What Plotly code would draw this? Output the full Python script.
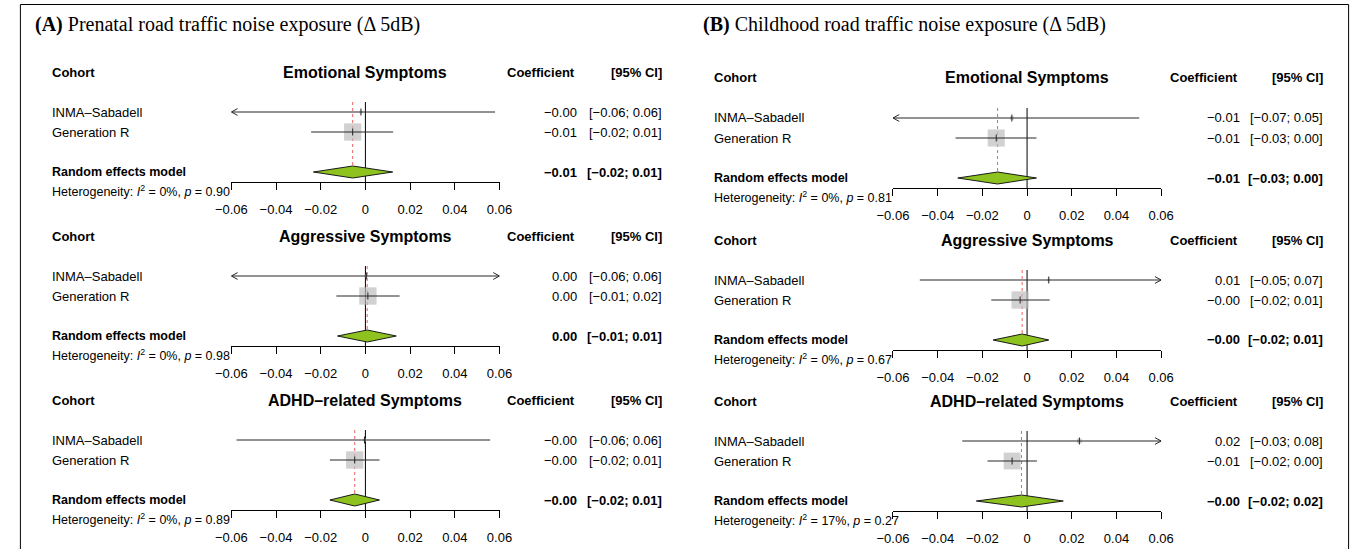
import plotly.graph_objects as go
import math

# ---------------- data ----------------
outcomes = ["Emotional Symptoms", "Aggressive Symptoms", "ADHD\u2013related Symptoms"]
studies = ["INMA\u2013Sabadell", "Generation R"]
panel_titles = ["<b>(A)</b> Prenatal road traffic noise exposure (\u0394 5dB)",
                "<b>(B)</b> Childhood road traffic noise exposure (\u0394 5dB)"]
x_limits = [-0.06, 0.06]
tick_vals = [-0.06, -0.04, -0.02, 0, 0.02, 0.04, 0.06]
tick_text = ["\u22120.06", "\u22120.04", "\u22120.02", "0", "0.02", "0.04", "0.06"]

# Prenatal exposure (A): per outcome
pre_inma_est = [-0.002, 0.0004, -0.0004]
pre_inma_lo = [-0.0625, -0.063, -0.0577]
pre_inma_hi = [0.058, 0.064, 0.0558]
pre_inma_w = [3, 2, 3]
pre_genr_est = [-0.0057, 0.0011, -0.0048]
pre_genr_lo = [-0.0243, -0.013, -0.0159]
pre_genr_hi = [0.0124, 0.0153, 0.0063]
pre_genr_w = [97, 98, 97]
pre_re_est = [-0.0057, 0.0008, -0.0048]
pre_re_lo = [-0.0233, -0.0125, -0.0159]
pre_re_hi = [0.0122, 0.0138, 0.0063]
pre_i2 = [0, 0, 0]
pre_p = [0.90, 0.98, 0.89]

# Childhood exposure (B): per outcome
child_inma_est = [-0.0068, 0.0097, 0.0234]
child_inma_lo = [-0.068, -0.048, -0.029]
child_inma_hi = [0.0502, 0.068, 0.076]
child_inma_w = [5, 3, 8]
child_genr_est = [-0.0138, -0.0031, -0.0067]
child_genr_lo = [-0.032, -0.016, -0.0177]
child_genr_hi = [0.0042, 0.0101, 0.0044]
child_genr_w = [95, 97, 92]
child_re_est = [-0.0132, -0.0022, -0.0025]
child_re_lo = [-0.031, -0.0152, -0.0227]
child_re_hi = [0.0042, 0.0097, 0.0162]
child_i2 = [0, 0, 17]
child_p = [0.81, 0.67, 0.27]

# ---------------- layout constants (pixels) ----------------
W, H = 1366, 549
ax_left_px = [220, 896]
ax_right_px = [494, 1170]
header_px = [[72, 236, 400], [78, 240, 401]]
label_left_px = [35, 711]
coef_right_px = [573, 1251]
est_right_px = [575, 1253]
ci_right_px = [662, 1337]
title_x_px = [17, 700]
title_y_px = 24
ROW = 20  # pixel pitch of one row

SANS = "Liberation Sans, Arial, Helvetica, sans-serif"
SERIF = "Liberation Serif, Times New Roman, serif"
BOX_COL = "#BEBEBE"
DIAM_COL = "#8DC21F"
LINE_COL = "#262626"

def px(x):
    return x / W

def py(y):
    return 1 - y / H

def fmt(v):
    s = f"{v:.2f}"
    return s.replace("-", "\u2212")

fig = go.Figure()
annotations = []
layout_axes = {}

def add_text(text, x, y, xanchor, size=13, bold=False, family=SANS):
    annotations.append(dict(
        text=f"<b>{text}</b>" if bold else text,
        x=px(x), y=py(y), xref="paper", yref="paper",
        xanchor=xanchor, yanchor="middle", showarrow=False,
        font=dict(family=family, size=size, color="black")))

exposures = [
    (pre_inma_est, pre_inma_lo, pre_inma_hi, pre_inma_w,
     pre_genr_est, pre_genr_lo, pre_genr_hi, pre_genr_w,
     pre_re_est, pre_re_lo, pre_re_hi, pre_i2, pre_p),
    (child_inma_est, child_inma_lo, child_inma_hi, child_inma_w,
     child_genr_est, child_genr_lo, child_genr_hi, child_genr_w,
     child_re_est, child_re_lo, child_re_hi, child_i2, child_p),
]

k = 0
for e, data in enumerate(exposures):
    (ie, il, ih, iw, ge, gl, gh, gw, re_e, re_l, re_h, i2, pv) = data
    annotations.append(dict(
        text=panel_titles[e], x=px(title_x_px[e]), y=py(title_y_px),
        xref="paper", yref="paper", xanchor="left", yanchor="middle",
        showarrow=False, font=dict(family=SERIF, size=20, color="black")))
    for o in range(3):
        k += 1
        xa = "x" if k == 1 else f"x{k}"
        ya = "y" if k == 1 else f"y{k}"
        hp = header_px[e][o]
        layout_axes["xaxis" if k == 1 else f"xaxis{k}"] = dict(
            domain=[px(ax_left_px[e]), px(ax_right_px[e])],
            range=x_limits, anchor=ya, showgrid=False, zeroline=False,
            showline=True, linecolor="black", linewidth=1,
            ticks="outside", ticklen=7, tickwidth=1, tickcolor="black",
            tickvals=tick_vals, ticktext=tick_text, ticklabelstandoff=8,
            tickfont=dict(family=SANS, size=13, color="black"), fixedrange=True)
        layout_axes["yaxis" if k == 1 else f"yaxis{k}"] = dict(
            domain=[py(hp + 5.5 * ROW), py(hp - 0.5 * ROW)],
            range=[5.5, -0.5], anchor=xa, visible=False, fixedrange=True)

        rows = [2, 3]
        est = [ie[o], ge[o]]
        lo = [il[o], gl[o]]
        hi = [ih[o], gh[o]]
        wts = [iw[o], gw[o]]

        # zero reference line
        fig.add_trace(go.Scatter(x=[0, 0], y=[1.5, 5.5], mode="lines",
                                 line=dict(color="black", width=1),
                                 xaxis=xa, yaxis=ya, hoverinfo="skip", showlegend=False))
        # random-effects dotted line
        fig.add_trace(go.Scatter(x=[re_e[o], re_e[o]], y=[1.5, 4.7], mode="lines",
                                 line=dict(color="#F06060", width=1, dash="dot"),
                                 xaxis=xa, yaxis=ya, hoverinfo="skip", showlegend=False))
        # boxes
        fig.add_trace(go.Scatter(
            x=est, y=rows, mode="markers",
            marker=dict(symbol="square", color=BOX_COL,
                        size=[max(2.5, 17.5 * math.sqrt(w / 100)) for w in wts],
                        line=dict(width=0)),
            xaxis=xa, yaxis=ya, hoverinfo="skip", showlegend=False, cliponaxis=False))
        # CI lines and arrows
        for r, l, h in zip(rows, lo, hi):
            lc = max(l, x_limits[0])
            hc = min(h, x_limits[1])
            fig.add_trace(go.Scatter(x=[lc, hc], y=[r, r], mode="lines",
                                     line=dict(color=LINE_COL, width=1),
                                     xaxis=xa, yaxis=ya, hoverinfo="skip",
                                     showlegend=False, cliponaxis=False))
            if l < x_limits[0]:
                tip = x_limits[0]
                fig.add_trace(go.Scatter(x=[tip + 0.0028, tip, tip + 0.0028],
                                         y=[r - 0.17, r, r + 0.17], mode="lines",
                                         line=dict(color=LINE_COL, width=1),
                                         xaxis=xa, yaxis=ya, hoverinfo="skip",
                                         showlegend=False, cliponaxis=False))
            if h > x_limits[1]:
                tip = x_limits[1]
                fig.add_trace(go.Scatter(x=[tip - 0.0028, tip, tip - 0.0028],
                                         y=[r - 0.17, r, r + 0.17], mode="lines",
                                         line=dict(color=LINE_COL, width=1),
                                         xaxis=xa, yaxis=ya, hoverinfo="skip",
                                         showlegend=False, cliponaxis=False))
        # estimate ticks
        fig.add_trace(go.Scatter(
            x=est, y=rows, mode="markers",
            marker=dict(symbol="line-ns", size=5, line=dict(color=LINE_COL, width=1)),
            xaxis=xa, yaxis=ya, hoverinfo="skip", showlegend=False, cliponaxis=False))
        # diamond
        fig.add_trace(go.Scatter(
            x=[re_l[o], re_e[o], re_h[o], re_e[o], re_l[o]],
            y=[5, 4.7, 5, 5.3, 5], mode="lines", fill="toself",
            fillcolor=DIAM_COL, line=dict(color="#1a1a1a", width=1),
            xaxis=xa, yaxis=ya, hoverinfo="skip", showlegend=False, cliponaxis=False))

        # ---- text columns ----
        add_text("Cohort", label_left_px[e], hp, "left", size=13, bold=True)
        add_text(outcomes[o], (ax_left_px[e] + ax_right_px[e]) / 2, hp, "center", size=16, bold=True)
        add_text("Coefficient", coef_right_px[e], hp, "right", size=13, bold=True)
        add_text("[95% CI]", ci_right_px[e], hp, "right", size=13, bold=True)
        for r, name, v, l, h in zip(rows, studies, est, lo, hi):
            yy = hp + r * ROW
            add_text(name, label_left_px[e], yy, "left", size=13)
            add_text(fmt(v), est_right_px[e], yy, "right", size=13)
            add_text(f"[{fmt(l)}; {fmt(h)}]", ci_right_px[e], yy, "right", size=13)
        yy = hp + 5 * ROW
        add_text("Random effects model", label_left_px[e], yy, "left", size=12.5, bold=True)
        add_text(fmt(re_e[o]), est_right_px[e], yy, "right", size=13, bold=True)
        add_text(f"[{fmt(re_l[o])}; {fmt(re_h[o])}]", ci_right_px[e], yy, "right", size=13, bold=True)
        add_text(f"Heterogeneity: <i>I</i><sup>2</sup> = {i2[o]}%, <i>p</i> = {pv[o]:.2f}",
                 label_left_px[e], hp + 6 * ROW - 1, "left", size=12.5)

fig.update_layout(
    width=W, height=H, autosize=False,
    margin=dict(l=0, r=0, t=0, b=0),
    paper_bgcolor="white", plot_bgcolor="white",
    showlegend=False, annotations=annotations,
    shapes=[dict(type="rect", xref="paper", yref="paper",
                 x0=px(4.5), x1=px(1361.5), y0=py(549.5), y1=py(4.5),
                 line=dict(color="black", width=1))],
    **layout_axes)

fig.write_html("out.html", config={"displayModeBar": False},
               post_script="document.body.style.margin='0px';document.body.style.overflow='hidden';")
